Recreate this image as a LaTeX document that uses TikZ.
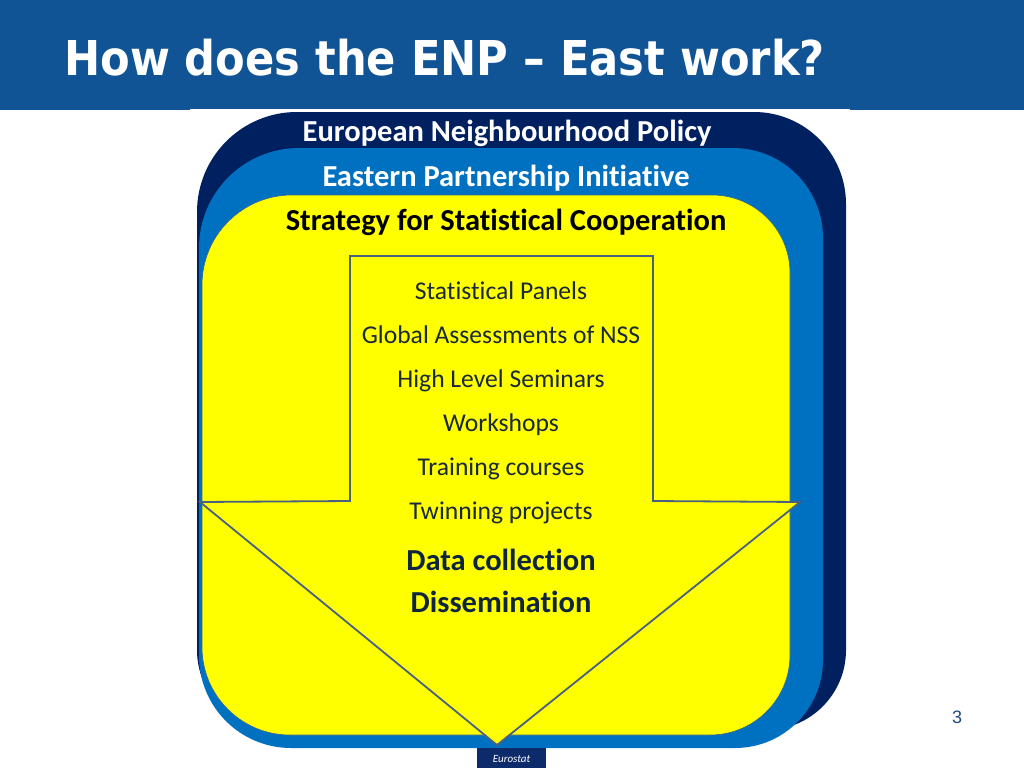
\documentclass[tikz,border=0pt]{standalone}
\usepackage{fontspec}
\setmainfont[Ligatures={NoCommon}]{Carlito}
\newfontfamily\titlefont{DejaVu Sans Condensed}
\newfontfamily\arialfont{Liberation Sans}
\definecolor{header}{RGB}{16,84,150}
\definecolor{navyc}{RGB}{0,32,96}
\definecolor{bluec}{RGB}{0,112,192}
\definecolor{yell}{RGB}{255,255,0}
\definecolor{arrowline}{RGB}{74,96,128}
\definecolor{listtext}{RGB}{26,40,60}
\definecolor{boldtext}{RGB}{15,36,62}
\definecolor{pagenum}{RGB}{31,73,125}
\definecolor{eurobox}{RGB}{13,42,107}
\tikzset{
  layertitle/.style={font=\fontsize{30.5}{34}\selectfont\bfseries, text=white, anchor=base, inner sep=0pt},
  listitem/.style={font=\fontsize{25.6}{30}\selectfont, text=listtext, anchor=base, inner sep=0pt},
  keyitem/.style={font=\fontsize{30.5}{34}\selectfont\bfseries, text=boldtext, anchor=base, inner sep=0pt},
}
\begin{document}
\begin{tikzpicture}[x=1pt,y=-1pt]
\useasboundingbox (0,0) rectangle (1024,768);
\fill[white] (0,0) rectangle (1024,768);
% header
\fill[header] (0,0) rectangle (1024,110);
\fill[white] (190,108.5) rectangle (850,112);
\node[font=\titlefont\bfseries\fontsize{48}{54}\selectfont, text=white, anchor=base west, inner sep=0pt] (title) at (64,75) {How does the ENP – East work?};
% navy layer
\fill[navyc] (197,500) [rounded corners=100] -- (197,112) [rounded corners=92] -- (846,112) [rounded corners=80] -- (846,730) [rounded corners=80] -- (197,730) [sharp corners] -- cycle;
% blue layer
\fill[bluec] (199,500) [rounded corners=100] -- (199,148) [rounded corners=90] -- (823,148) [rounded corners=88] -- (823,748) [rounded corners=92] -- (199,748) [sharp corners] -- cycle;
% yellow layer
\filldraw[fill=yell, draw=arrowline!70!bluec, line width=0.6pt] (202,450) [rounded corners=90] -- (202,195) [rounded corners=78] -- (790,195) [rounded corners=80] -- (790,735) [rounded corners=88] -- (202,735) [sharp corners] -- cycle;
% arrow
\filldraw[fill=yell, draw=arrowline, line width=1.8pt, line join=miter]
  (350,256) -- (653,256) -- (653,501) -- (800,502) -- (497,745) -- (200,502) -- (350,501) -- cycle;
% layer titles
\node[layertitle] (enp) at (507,141) {European Neighbourhood Policy};
\node[layertitle] (epi) at (506,186) {Eastern Partnership Initiative};
\node[layertitle, text=black] (ssc) at (506,230) {Strategy for Statistical Cooperation};
% list
\node[listitem] (l1) at (501,299) {Statistical Panels};
\node[listitem] (l2) at (501,343) {Global Assessments of NSS};
\node[listitem] (l3) at (501,387) {High Level Seminars};
\node[listitem] (l4) at (501,431) {Workshops};
\node[listitem] (l5) at (501,475) {Training courses};
\node[listitem] (l6) at (501,519) {Twinning projects};
\node[keyitem] (k1) at (501,570) {Data collection};
\node[keyitem] (k2) at (501,612) {Dissemination};
% page number
\node[font=\arialfont\fontsize{18}{20}\selectfont, text=pagenum, anchor=base, inner sep=0pt] (pnum) at (957,723) {3};
% eurostat tag
\fill[eurobox] (477,748) rectangle (546,768);
\node[font=\fontsize{11}{12}\selectfont\itshape, text=white, inner sep=0pt] (euro) at (511.5,758.5) {Eurostat};
\end{tikzpicture}
\end{document}
